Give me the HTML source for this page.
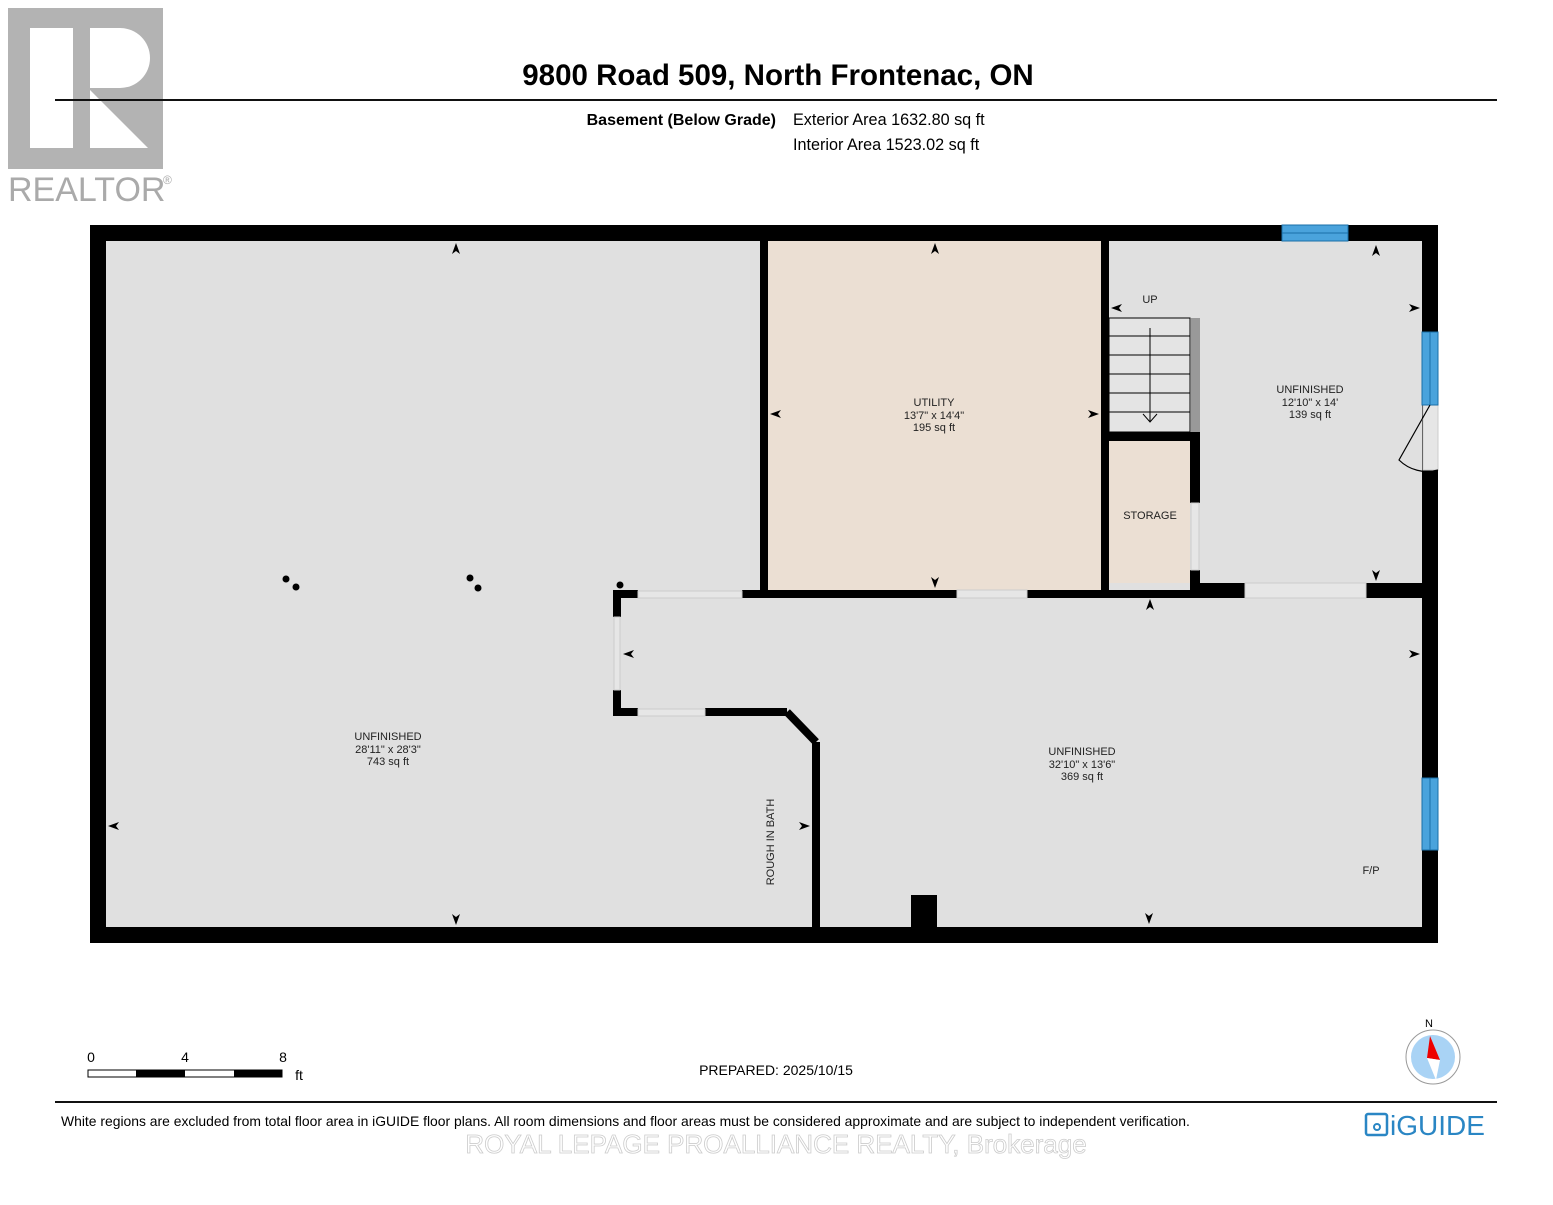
<!DOCTYPE html>
<html><head><meta charset="utf-8"><style>
body{margin:0;background:#fff;width:1553px;height:1200px;overflow:hidden;font-family:"Liberation Sans",Arial,sans-serif}
</style></head><body>
<svg width="1553" height="1200" xmlns="http://www.w3.org/2000/svg" font-family="Liberation Sans, Arial, sans-serif">
<!-- realtor logo -->
<rect x="8" y="8" width="155" height="161" fill="#b3b3b3"/>
<rect x="30" y="28" width="43" height="120" fill="#fff"/>
<path d="M90 28 H120 A30 30 0 0 1 120 88 H90 Z M90 90 L148 148 H90 Z" fill="#fff"/>
<text x="8" y="201" font-size="34" fill="#aaa">REALTOR</text>
<text x="163" y="184" font-size="12" fill="#aaa">®</text>
<line x1="55" y1="100" x2="1497" y2="100" stroke="#111" stroke-width="2"/>
<text x="778" y="85" font-size="29.5" font-weight="bold" text-anchor="middle">9800 Road 509, North Frontenac, ON</text>
<text x="776" y="125" font-size="16" font-weight="bold" text-anchor="end">Basement (Below Grade)</text>
<text x="793" y="125" font-size="16.2">Exterior Area 1632.80 sq ft</text>
<text x="793" y="150" font-size="16.2">Interior Area 1523.02 sq ft</text>

<!-- plan -->
<rect x="90" y="225" width="1348" height="718" fill="#000"/>
<rect x="106" y="241" width="1316" height="686" fill="#e0e0e0"/>
<rect x="768" y="241" width="333" height="349" fill="#ebdfd3"/>
<rect x="1109" y="441" width="81" height="142" fill="#ebdfd3"/>
<g fill="#000">
<rect x="760" y="241" width="8" height="357"/>
<rect x="1101" y="241" width="8" height="350"/>
<rect x="742" y="590" width="215" height="8"/>
<rect x="1027" y="590" width="170" height="8"/>
<rect x="1190" y="583" width="55" height="15"/>
<rect x="1366" y="583" width="56" height="15"/>
<rect x="1101" y="432" width="99" height="9"/>
<rect x="1190" y="432" width="10" height="71"/>
<rect x="1190" y="570" width="10" height="20"/>
<rect x="613" y="590" width="25" height="8"/>
<rect x="613" y="590" width="8" height="27"/>
<rect x="613" y="690" width="8" height="26"/>
<rect x="613" y="708" width="25" height="8"/>
<rect x="705" y="708" width="82" height="8"/>
<rect x="812" y="742" width="8" height="190"/>
<rect x="911" y="895" width="26" height="35"/>
</g>
<path d="M787 712 L816 742" stroke="#000" stroke-width="8"/>
<g fill="#e6e6e6" stroke="#ccc" stroke-width="1">
<rect x="957" y="590" width="70" height="8"/>
<rect x="1245" y="583" width="121" height="15"/>
<rect x="638" y="591" width="104" height="7"/>
<rect x="614" y="617" width="6" height="73"/>
<rect x="638" y="709" width="67" height="7"/>
<rect x="1191" y="503" width="8" height="67"/>
<rect x="1423" y="405" width="15" height="65"/>
</g>
<!-- windows -->
<g fill="#4aa3dc" stroke="#1a6fa8" stroke-width="1">
<rect x="1282" y="225" width="66" height="16"/>
<rect x="1422" y="332" width="16" height="73"/>
<rect x="1422" y="778" width="16" height="72"/>
</g>
<line x1="1282" y1="233" x2="1348" y2="233" stroke="#1a6fa8"/>
<line x1="1430" y1="332" x2="1430" y2="405" stroke="#1a6fa8"/>
<line x1="1430" y1="778" x2="1430" y2="850" stroke="#1a6fa8"/>
<path d="M1430 405 L1399 460 A40 40 0 0 0 1438 470" fill="none" stroke="#000" stroke-width="1.2"/>
<!-- stairs -->
<g stroke="#000" stroke-width="1" fill="none">
<rect x="1109" y="318" width="81" height="114" fill="#e4e4e4"/>
<line x1="1109" y1="336" x2="1190" y2="336"/><line x1="1109" y1="355" x2="1190" y2="355"/>
<line x1="1109" y1="374" x2="1190" y2="374"/><line x1="1109" y1="393" x2="1190" y2="393"/>
<line x1="1109" y1="412" x2="1190" y2="412"/>
<line x1="1150" y1="328" x2="1150" y2="422"/><path d="M1143 414 L1150 422 L1157 414"/>
</g>
<rect x="1191" y="318" width="9" height="114" fill="#999"/>
<!-- arrows -->
<g fill="#000">
<path d="M456 243 l-4 11 l4 -3 l4 3z"/><path d="M935 243 l-4 11 l4 -3 l4 3z"/><path d="M1376 245 l-4 11 l4 -3 l4 3z"/><path d="M1150 599 l-4 11 l4 -3 l4 3z"/>
<path d="M456 925 l-4 -11 l4 3 l4 -3z"/><path d="M935 588 l-4 -11 l4 3 l4 -3z"/><path d="M1376 581 l-4 -11 l4 3 l4 -3z"/><path d="M1149 924 l-4 -11 l4 3 l4 -3z"/>
<path d="M108 826 l11 -4 l-3 4 l3 4z"/><path d="M770 414 l11 -4 l-3 4 l3 4z"/><path d="M1111 308 l11 -4 l-3 4 l3 4z"/><path d="M623 654 l11 -4 l-3 4 l3 4z"/>
<path d="M810 826 l-11 -4 l3 4 l-3 4z"/><path d="M1099 414 l-11 -4 l3 4 l-3 4z"/><path d="M1420 308 l-11 -4 l3 4 l-3 4z"/><path d="M1420 654 l-11 -4 l3 4 l-3 4z"/>
<circle cx="286" cy="579" r="3.5"/><circle cx="296" cy="587" r="3.5"/><circle cx="470" cy="578" r="3.5"/><circle cx="478" cy="588" r="3.5"/><circle cx="620" cy="585" r="3.5"/>
</g>
<g font-size="11" text-anchor="middle" fill="#222">
<text x="934" y="406">UTILITY</text><text x="934" y="419">13'7" x 14'4"</text><text x="934" y="431">195 sq ft</text>
<text x="1310" y="393">UNFINISHED</text><text x="1310" y="406">12'10" x 14'</text><text x="1310" y="418">139 sq ft</text>
<text x="388" y="740">UNFINISHED</text><text x="388" y="753">28'11" x 28'3"</text><text x="388" y="765">743 sq ft</text>
<text x="1082" y="755">UNFINISHED</text><text x="1082" y="768">32'10" x 13'6"</text><text x="1082" y="780">369 sq ft</text>
<text x="1150" y="519">STORAGE</text><text x="1150" y="303">UP</text><text x="1371" y="874">F/P</text>
<text transform="translate(774 842) rotate(-90)">ROUGH IN BATH</text>
</g>
<!-- scale -->
<text x="91" y="1062" font-size="14" text-anchor="middle">0</text><text x="185" y="1062" font-size="14" text-anchor="middle">4</text><text x="283" y="1062" font-size="14" text-anchor="middle">8</text><text x="299" y="1080" font-size="14" text-anchor="middle">ft</text>
<rect x="88" y="1070" width="194" height="7" fill="#fff" stroke="#000"/>
<rect x="136" y="1070" width="49" height="7" fill="#000"/><rect x="234" y="1070" width="48" height="7" fill="#000"/>
<text x="776" y="1075" font-size="14" text-anchor="middle">PREPARED: 2025/10/15</text>
<!-- compass -->
<text x="1429" y="1027" font-size="11" text-anchor="middle">N</text>
<circle cx="1433" cy="1057" r="27" fill="#fff" stroke="#999"/>
<circle cx="1433" cy="1057" r="22" fill="#a9d3f5"/>
<path d="M1430 1036 L1440 1060 L1427 1058Z" fill="#e00"/>
<path d="M1427 1058 L1440 1060 L1436 1080Z" fill="#fff"/>
<line x1="55" y1="1102" x2="1497" y2="1102" stroke="#111" stroke-width="2"/>
<text x="61" y="1126" font-size="13.9">White regions are excluded from total floor area in iGUIDE floor plans. All room dimensions and floor areas must be considered approximate and are subject to independent verification.</text>
<rect x="1366" y="1114" width="21" height="21" rx="2" fill="none" stroke="#2a86c4" stroke-width="2.5"/>
<circle cx="1377" cy="1127" r="3" fill="none" stroke="#2a86c4" stroke-width="2"/>
<text x="1390" y="1135" font-size="28" fill="#2a86c4">iGUIDE</text>
<text x="776" y="1153" font-size="26" text-anchor="middle" fill="#fff" stroke="#ccc" stroke-width="0.8">ROYAL LEPAGE PROALLIANCE REALTY, Brokerage</text>
</svg>
</body></html>
